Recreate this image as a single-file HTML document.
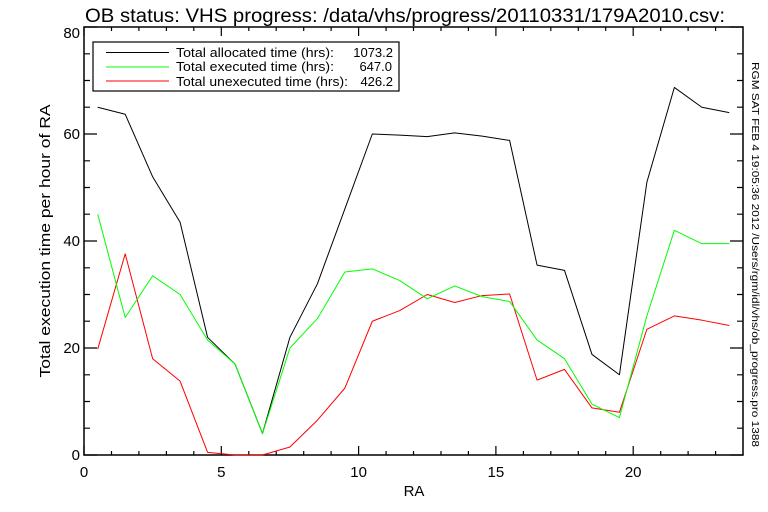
<!DOCTYPE html>
<html><head><meta charset="utf-8"><style>
html,body{margin:0;padding:0;background:#fff}
svg{display:block;font-family:"Liberation Sans",sans-serif}
</style></head><body>
<svg width="768" height="512" viewBox="0 0 768 512" xmlns="http://www.w3.org/2000/svg">
<rect width="768" height="512" fill="#fff"/>
<text x="85" y="22" font-size="19" textLength="640" lengthAdjust="spacingAndGlyphs">OB status: VHS progress: /data/vhs/progress/20110331/179A2010.csv:</text>
<rect x="84" y="27" width="659" height="428" fill="none" stroke="#000" stroke-width="1.5"/>
<g stroke="#000" stroke-width="1.2">
<path d="M84,455v-9M221.3,455v-9M358.6,455v-9M495.9,455v-9M633.2,455v-9
M84,27v9M221.3,27v9M358.6,27v9M495.9,27v9M633.2,27v9
M111.5,455v-4M138.9,455v-4M166.4,455v-4M193.8,455v-4M248.8,455v-4M276.2,455v-4M303.7,455v-4M331.1,455v-4M386.1,455v-4M413.5,455v-4M441,455v-4M468.4,455v-4M523.4,455v-4M550.8,455v-4M578.3,455v-4M605.7,455v-4M660.7,455v-4M688.1,455v-4M715.6,455v-4
M111.5,27v4M138.9,27v4M166.4,27v4M193.8,27v4M248.8,27v4M276.2,27v4M303.7,27v4M331.1,27v4M386.1,27v4M413.5,27v4M441,27v4M468.4,27v4M523.4,27v4M550.8,27v4M578.3,27v4M605.7,27v4M660.7,27v4M688.1,27v4M715.6,27v4"/>
<path d="M84,455h13M84,348h13M84,241h13M84,134h13M84,27h13
M743,455h-13M743,348h-13M743,241h-13M743,134h-13M743,27h-13
M84,428.2h6M84,401.5h6M84,374.8h6M84,321.2h6M84,294.5h6M84,267.8h6M84,214.2h6M84,187.5h6M84,160.8h6M84,107.2h6M84,80.5h6M84,53.8h6
M743,428.2h-6M743,401.5h-6M743,374.8h-6M743,321.2h-6M743,294.5h-6M743,267.8h-6M743,214.2h-6M743,187.5h-6M743,160.8h-6M743,107.2h-6M743,80.5h-6M743,53.8h-6"/>
</g>
<g font-size="15" text-anchor="middle">
<text x="84" y="477">0</text><text x="221.3" y="477">5</text><text x="358.6" y="477">10</text><text x="495.9" y="477">15</text><text x="633.2" y="477">20</text>
<text x="414" y="496">RA</text>
</g>
<g font-size="15" text-anchor="end">
<text x="80" y="460">0</text><text x="80" y="353">20</text><text x="80" y="246">40</text><text x="80" y="139">60</text><text x="80" y="38">80</text>
</g>
<text transform="translate(50,241) rotate(-90)" font-size="15" text-anchor="middle" textLength="273" lengthAdjust="spacingAndGlyphs">Total execution time per hour of RA</text>
<text transform="translate(752,62) rotate(90)" font-size="10.5" textLength="385" lengthAdjust="spacingAndGlyphs">RGM SAT FEB  4 19:05:36 2012 /Users/rgm/idl/vhs/ob_progress.pro 1388</text>
<rect x="93" y="42" width="306" height="49" fill="#fff" stroke="#000" stroke-width="1.2"/>
<line x1="106" y1="52.5" x2="169" y2="52.5" stroke="#000"/>
<line x1="106" y1="67" x2="169" y2="67" stroke="#00ff00"/>
<line x1="106" y1="81" x2="169" y2="81" stroke="#ff0000"/>
<g font-size="13">
<text x="176" y="57" textLength="158" lengthAdjust="spacingAndGlyphs">Total allocated time (hrs):</text>
<text x="176" y="71" textLength="158" lengthAdjust="spacingAndGlyphs">Total executed time (hrs):</text>
<text x="176" y="86" textLength="172" lengthAdjust="spacingAndGlyphs">Total unexecuted time (hrs):</text>
</g>
<g font-size="13" text-anchor="end">
<text x="393" y="57">1073.2</text>
<text x="392" y="71">647.0</text>
<text x="393" y="86">426.2</text>
</g>
<g transform="translate(84,455) scale(27.458,-5.35)" fill="none" stroke-width="1" stroke-linejoin="round">
<polyline vector-effect="non-scaling-stroke" stroke="#000" points="0.5,65 1.5,63.7 2.5,52 3.5,43.5 4.5,22 5.5,17 6.5,4 7.5,22 8.5,32 9.5,46 10.5,60 11.5,59.8 12.5,59.5 13.5,60.2 14.5,59.6 15.5,58.8 16.5,35.5 17.5,34.5 18.5,18.8 19.5,15 20.5,51 21.5,68.7 22.5,65 23.5,64"/>
<polyline vector-effect="non-scaling-stroke" stroke="#ff0000" points="0.5,19.8 1.5,37.6 2.5,18 3.5,13.8 4.5,0.5 5.5,0 6.5,0 7.5,1.5 8.5,6.5 9.5,12.5 10.5,25 11.5,27 12.5,30 13.5,28.5 14.5,29.8 15.5,30.1 16.5,14 17.5,16 18.5,8.8 19.5,8 20.5,23.5 21.5,26 22.5,25.2 23.5,24.2"/>
<polyline vector-effect="non-scaling-stroke" stroke="#00ff00" points="0.5,45 1.5,25.7 2.5,33.5 3.5,30 4.5,21.5 5.5,17 6.5,4 7.5,20 8.5,25.5 9.5,34.2 10.5,34.8 11.5,32.6 12.5,29.2 13.5,31.6 14.5,29.6 15.5,28.7 16.5,21.5 17.5,18 18.5,9.5 19.5,7 20.5,26 21.5,42 22.5,39.5 23.5,39.5"/>
</g>
</svg>
</body></html>
